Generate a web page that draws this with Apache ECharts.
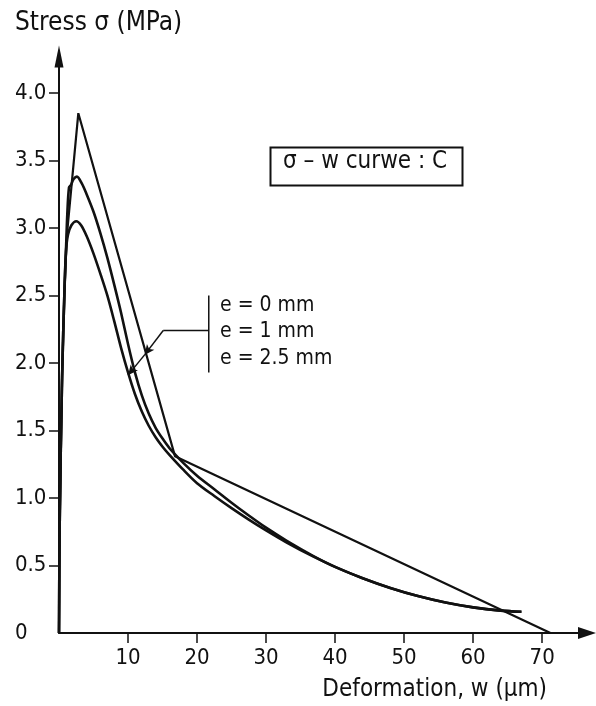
<!DOCTYPE html>
<html>
<head>
<meta charset="utf-8">
<title>Stress–deformation curves</title>
<script src="https://cdn.jsdelivr.net/npm/echarts@6/dist/echarts.min.js"></script>
<style>
  html, body { margin: 0; padding: 0; background: #fff; }
  #chart { width: 596px; height: 706px; }
</style>
</head>
<body>
<div id="chart"></div>
<script>
// Deformation w (µm) vs stress σ (MPa), one curve per eccentricity e
const curveE0 = [
  [0, 0], [0.1, 0.8], [0.45, 1.9], [0.8, 2.55], [1.15, 2.95],
  [2.8, 3.85], [16.8, 1.31], [71.2, 0]
];
const curveE1 = [
  [0, 0], [0.1, 0.8], [0.45, 1.9], [0.8, 2.55], [1.0, 2.82], [1.2, 3.1],
  [1.45, 3.3], [1.75, 3.32], [2.1, 3.36], [2.6, 3.38], [3.3, 3.33],
  [4.0, 3.25], [5.0, 3.12], [6.0, 2.96], [7.0, 2.78], [8.0, 2.58],
  [9.0, 2.37], [10.0, 2.14], [11.0, 1.93], [12.0, 1.76], [13.0, 1.625],
  [14.0, 1.52], [15.0, 1.44], [16.0, 1.37], [18.0, 1.26], [20.0, 1.165],
  [22.5, 1.065], [25, 0.965], [27.5, 0.87], [30, 0.78], [33, 0.683],
  [36.8, 0.572], [40, 0.49], [44, 0.406], [48, 0.334], [52, 0.274],
  [56, 0.226], [60, 0.19], [64, 0.166], [67, 0.157]
];
const curveE25 = [
  [0, 0], [0.1, 0.8], [0.45, 1.9], [0.8, 2.55], [1.0, 2.82], [1.3, 2.95],
  [1.8, 3.02], [2.5, 3.05], [3.2, 3.02], [4.0, 2.94], [5.0, 2.81],
  [6.0, 2.66], [7.0, 2.5], [8.0, 2.31], [9.0, 2.11], [10.0, 1.93],
  [11.0, 1.77], [12.0, 1.64], [13.0, 1.535], [14.0, 1.45], [15.0, 1.38],
  [16.0, 1.32], [18.0, 1.21], [20.0, 1.11], [22.5, 1.015], [25, 0.925],
  [27.5, 0.84], [30, 0.76], [33, 0.67], [36.8, 0.567], [40, 0.49],
  [44, 0.406], [48, 0.334], [52, 0.274], [56, 0.226], [60, 0.19],
  [64, 0.166], [67, 0.157]
];

// Axis ticks and labels
const xTickValues = [10, 20, 30, 40, 50, 60, 70];
const yTickValues = [0.5, 1.0, 1.5, 2.0, 2.5, 3.0, 3.5, 4.0];
const yLabelValues = [0, 0.5, 1.0, 1.5, 2.0, 2.5, 3.0, 3.5, 4.0];

// Texts
const yTitle = 'Stress σ (MPa)';
const xTitle = 'Deformation, w (µm)';
const boxLabel = 'σ – w curwe : C';
const legendLabels = ['e = 0 mm', 'e = 1 mm', 'e = 2.5 mm'];

// Leader: bracket bar, elbow, and the two arrow targets (data coordinates)
const leaderBar = [[21.7, 2.50], [21.7, 1.93]];
const leaderElbow = [[21.7, 2.24], [15.1, 2.24]];
const leaderArrows = [
  [[15.1, 2.24], [12.4, 2.06]],
  [[12.4, 2.06], [10.0, 1.91]]
];

const FONT = "'DejaVu Sans Condensed','Liberation Sans Narrow','DejaVu Sans',sans-serif";
const INK = '#111';

const chart = echarts.init(document.getElementById('chart'), null, { renderer: 'canvas' });

chart.setOption({
  animation: false,
  backgroundColor: '#fff',
  title: {
    text: yTitle, left: 10, top: 5,
    textStyle: { fontFamily: FONT, fontSize: 26, fontWeight: 'normal', color: INK }
  },
  grid: { left: 59, right: 9, top: 56.5, bottom: 73 },
  xAxis: {
    type: 'value', min: 0, max: 76.5,
    splitLine: { show: false },
    axisLine: {
      show: true, onZero: false,
      lineStyle: { color: INK, width: 2 },
      symbol: ['none', 'triangle'], symbolSize: [12, 18]
    },
    axisTick: { show: true, customValues: xTickValues, length: 10, lineStyle: { color: INK, width: 1.5 } },
    axisLabel: {
      customValues: xTickValues, margin: 14,
      fontFamily: FONT, fontSize: 22, color: INK
    },
    name: xTitle, nameLocation: 'end', nameGap: -40,
    nameTextStyle: {
      fontFamily: FONT, fontSize: 24, color: INK,
      align: 'right', verticalAlign: 'top', padding: [45, 0, 0, 0]
    }
  },
  yAxis: {
    type: 'value', min: 0, max: 4.27,
    splitLine: { show: false },
    axisLine: {
      show: true, onZero: false,
      lineStyle: { color: INK, width: 2 },
      symbol: ['none', 'triangle'], symbolSize: [9, 22]
    },
    axisTick: { show: true, customValues: yTickValues, length: 10, lineStyle: { color: INK, width: 1.5 } },
    axisLabel: {
      customValues: yLabelValues, align: 'left', margin: 44,
      fontFamily: FONT, fontSize: 22, color: INK,
      formatter: v => (v === 0 ? '0' : v.toFixed(1))
    }
  },
  series: [
    {
      name: legendLabels[0], type: 'line', data: curveE0,
      showSymbol: false, smooth: false,
      lineStyle: { color: INK, width: 2.2 }
    },
    {
      name: legendLabels[1], type: 'line', data: curveE1,
      showSymbol: false, smooth: 0.3,
      lineStyle: { color: INK, width: 2.6 }
    },
    {
      name: legendLabels[2], type: 'line', data: curveE25,
      showSymbol: false, smooth: 0.3,
      lineStyle: { color: INK, width: 2.6 }
    },
    {
      name: 'bracket', type: 'line', data: leaderBar, silent: true,
      showSymbol: false, lineStyle: { color: INK, width: 1.5 }
    },
    {
      name: 'leader', type: 'line', data: leaderElbow, silent: true,
      showSymbol: false, lineStyle: { color: INK, width: 1.5 },
      markLine: {
        silent: true, animation: false,
        symbol: ['none', 'arrow'], symbolSize: [7, 10],
        label: { show: false },
        lineStyle: { color: INK, width: 1.5, type: 'solid' },
        data: leaderArrows.map(([a, b]) => [{ coord: a }, { coord: b }])
      }
    }
  ],
  graphic: [
    {
      type: 'rect', left: 268, top: 145,
      shape: { width: 192, height: 38 },
      style: { fill: 'none', stroke: INK, lineWidth: 2 }
    },
    {
      type: 'text', left: 283, top: 150,
      style: { text: boxLabel, font: `24px ${FONT}`, fill: INK }
    },
    ...legendLabels.map((t, i) => ({
      type: 'text', left: 220, top: 295 + i * 26.5,
      style: { text: t, font: `21px ${FONT}`, fill: INK }
    }))
  ]
});
</script>
</body>
</html>
